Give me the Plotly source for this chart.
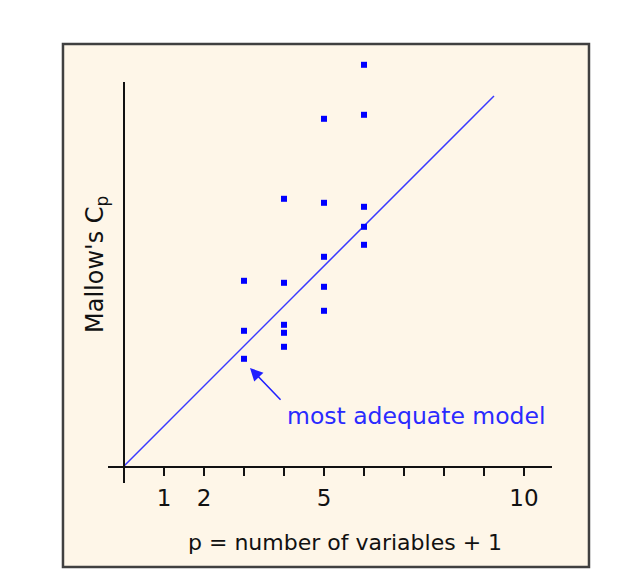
import plotly.graph_objects as go

# data
p_vals = [3, 3, 3, 4, 4, 4, 4, 4, 5, 5, 5, 5, 5, 6, 6, 6, 6, 6]
cp_vals = [4.63, 3.38, 2.68, 6.68, 4.58, 3.53, 3.33, 2.98,
           8.68, 6.58, 5.23, 4.48, 3.88, 10.03, 8.78, 6.48, 5.98, 5.53]
ref_x = [0, 9.25]
ref_y = [0, 9.25]
tick_vals = [1, 2, 5, 10]
tick_text = ["1", "2", "5", "10"]
best_p, best_cp = 3.15, 2.45
arrow_tail = (3.95, 1.62)
label_pos = (4.03, 1.25)

FONT = "DejaVu Sans"
BLUE = "#0000ff"
Y_TOP = 10.2          # y range top (data units)
Y_AXIS_TOP = 9.6      # where the drawn y axis line ends
PLOT_H = 408          # px

fig = go.Figure()
fig.add_trace(go.Scatter(x=ref_x, y=ref_y, mode="lines",
                         line=dict(color="#3a3aff", width=1.5),
                         hoverinfo="skip", showlegend=False))
fig.add_trace(go.Scatter(x=p_vals, y=cp_vals, mode="markers",
                         marker=dict(symbol="square", size=6, color=BLUE,
                                     line=dict(width=0)),
                         cliponaxis=False, showlegend=False))

# frame box
fig.add_shape(type="rect", xref="paper", yref="paper",
              x0=-0.1014, x1=1.0833, y0=-101/PLOT_H, y1=422/PLOT_H,
              line=dict(color="#404040", width=2.5), fillcolor="#fef6e8",
              layer="below")
# y axis line (extends below x axis)
fig.add_shape(type="line", xref="x", yref="paper", x0=0, x1=0,
              y0=-17/PLOT_H, y1=Y_AXIS_TOP/Y_TOP,
              line=dict(color="#111111", width=2))

# arrow
fig.add_annotation(x=best_p, y=best_cp, ax=arrow_tail[0], ay=arrow_tail[1],
                   axref="x", ayref="y", xref="x", yref="y", text="",
                   showarrow=True, arrowhead=2, arrowsize=1.7, arrowwidth=1.5,
                   arrowcolor="#2020ff", standoff=0)
fig.add_annotation(x=label_pos[0], y=label_pos[1], xref="x", yref="y",
                   text="most adequate model", showarrow=False,
                   xanchor="left", yanchor="middle",
                   font=dict(family=FONT, size=23.5, color="#2a2aff"))
# axis titles
fig.add_annotation(x=0.534, y=-76/PLOT_H, xref="paper", yref="paper",
                   text="p = number of variables + 1", showarrow=False,
                   xanchor="center", yanchor="middle",
                   font=dict(family=FONT, size=22, color="#111111"))
fig.add_annotation(x=-0.027, y=201/PLOT_H, xref="paper", yref="paper",
                   text="Mallow's C<sub>p</sub>", showarrow=False, textangle=-90,
                   xanchor="center", yanchor="middle",
                   font=dict(family=FONT, size=24, color="#111111"))

fig.update_xaxes(range=[-0.4, 10.7], showgrid=False, zeroline=False,
                 showline=True, linecolor="#111111", linewidth=2,
                 ticks="outside", ticklen=8, tickwidth=2, tickcolor="#111111",
                 tickvals=tick_vals, ticktext=tick_text, ticklabelstandoff=2,
                 tickfont=dict(family=FONT, size=23, color="#111111"),
                 minor=dict(tick0=1, dtick=1, ticks="outside", ticklen=8,
                            tickwidth=2, tickcolor="#111111", showgrid=False))
fig.update_yaxes(range=[0, Y_TOP], visible=False)

fig.update_layout(width=611, height=578,
                  margin=dict(l=100, r=67, t=50, b=120),
                  paper_bgcolor="white", plot_bgcolor="rgba(0,0,0,0)",
                  showlegend=False)

fig.write_html("out.html")
